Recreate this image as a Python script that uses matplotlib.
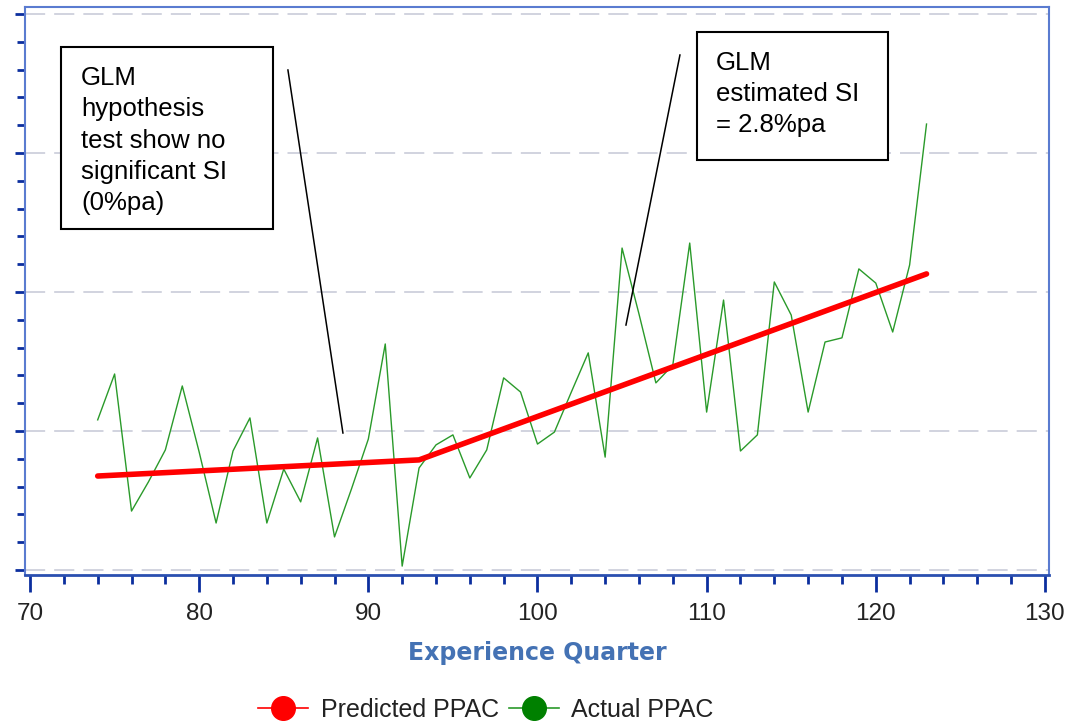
import matplotlib
matplotlib.use("Agg")
import matplotlib.pyplot as plt
from matplotlib.lines import Line2D
from matplotlib.patches import Rectangle
from matplotlib.ticker import MultipleLocator, NullFormatter

plt.rcParams['font.family'] = ['Liberation Sans', 'DejaVu Sans']
plt.rcParams['lines.scale_dashes'] = False

# Experience quarters and observed PPAC (arbitrary units)
quarters = list(range(74, 124))
actual_ppac = [5.40, 7.05, 2.12, 3.17, 4.32, 6.62, 4.24, 1.69, 4.28, 5.47,
               1.69, 3.63, 2.45, 4.75, 1.19, 2.91, 4.71, 8.13, 0.14, 3.67,
               4.50, 4.86, 3.31, 4.32, 6.91, 6.40, 4.53, 4.96, 6.40, 7.81,
               4.06, 11.58, 9.21, 6.73, 7.37, 11.76, 5.68, 9.71, 4.28, 4.86,
               10.36, 9.17, 5.68, 8.20, 8.35, 10.83, 10.32, 8.56, 10.97, 16.04]

# GLM fitted trend: flat segment, then growth after the breakpoint
predicted_quarters = [74, 93, 123]
predicted_ppac = [3.38, 3.96, 10.65]

x_major_ticks = [70, 80, 90, 100, 110, 120, 130]
x_label = "Experience Quarter"
legend_labels = ["Predicted PPAC", "Actual PPAC"]
note_left = "GLM\nhypothesis\ntest show no\nsignificant SI\n(0%pa)"
note_right = "GLM\nestimated SI\n= 2.8%pa"

fig = plt.figure(figsize=(10.76, 7.22), dpi=100)
ax = fig.add_axes([0.0232, 0.2036, 0.9517, 0.7867])

ax.plot(quarters, actual_ppac, color='#2a9a2a', lw=1.0, zorder=3)
ax.plot(predicted_quarters, predicted_ppac, color='#ff0000', lw=4.0,
        solid_capstyle='round', zorder=4)

ax.set_xlim(69.7, 130.24)
ax.set_ylim(-0.18, 20.25)

ax.set_xticks(x_major_ticks)
ax.set_xticklabels([str(t) for t in x_major_ticks])
ax.xaxis.set_minor_locator(MultipleLocator(2))
ax.yaxis.set_major_locator(MultipleLocator(5))
ax.yaxis.set_minor_locator(MultipleLocator(1))
ax.yaxis.set_major_formatter(NullFormatter())

tick_col = '#0b2e9e'
ax.tick_params(axis='x', which='major', length=12, width=2, color=tick_col,
               labelsize=17.5, labelcolor='#222222', pad=8)
ax.tick_params(axis='x', which='minor', length=6.5, width=2, color=tick_col)
ax.tick_params(axis='y', which='major', length=7.5, width=2, color=tick_col)
ax.tick_params(axis='y', which='minor', length=6, width=2, color=tick_col)

ax.grid(axis='y', which='major', color='#c5c8d6', lw=1.1,
        linestyle=(0, (14.5, 6.5)))
ax.set_axisbelow(True)

for side in ['top', 'right', 'left']:
    ax.spines[side].set_color('#5a7bd0')
    ax.spines[side].set_linewidth(1.5)
ax.spines['bottom'].set_color('#2a4fb0')
ax.spines['bottom'].set_linewidth(2)

ax.set_xlabel(x_label, fontsize=17, fontweight='bold', color='#4472b4',
              family=['DejaVu Sans'])
ax.xaxis.set_label_coords(0.5, -0.116)
ax.xaxis.label.set_verticalalignment('top')

# Annotation boxes with leader lines (text anchored at the last line's baseline)
ax.add_patch(Rectangle((0.0352, 0.6092), 0.2070, 0.3204, transform=ax.transAxes,
                       facecolor='white', edgecolor='black', lw=1.5, zorder=5))
ax.text(0.0547, 0.6426, note_left, transform=ax.transAxes, fontsize=18.5,
        va='baseline', ha='left', linespacing=1.38, zorder=6)
ax.add_line(Line2D([0.2568, 0.3105], [0.8891, 0.25], transform=ax.transAxes,
                   color='black', lw=1.1, zorder=6))

ax.add_patch(Rectangle((0.6563, 0.7306), 0.1865, 0.2254, transform=ax.transAxes,
                       facecolor='white', edgecolor='black', lw=1.5, zorder=5))
ax.text(0.6748, 0.7799, note_right, transform=ax.transAxes, fontsize=18.5,
        va='baseline', ha='left', linespacing=1.38, zorder=6)
ax.add_line(Line2D([0.6396, 0.5869], [0.9155, 0.4401], transform=ax.transAxes,
                   color='black', lw=1.1, zorder=6))

handles = [
    Line2D([], [], color='#ff0000', lw=1.2, marker='o', markersize=17,
           markerfacecolor='#ff0000', markeredgecolor='#ff0000'),
    Line2D([], [], color='#2a9a2a', lw=1.2, marker='o', markersize=17,
           markerfacecolor='#008000', markeredgecolor='#008000'),
]
fig.legend(handles, legend_labels, loc='center', ncol=2, frameon=False,
           bbox_to_anchor=(0.4517, 0.0165), fontsize=18, handlelength=2.0,
           handletextpad=0.5, columnspacing=0.4, labelcolor='#222222')

fig.savefig('out.png', dpi=100)
